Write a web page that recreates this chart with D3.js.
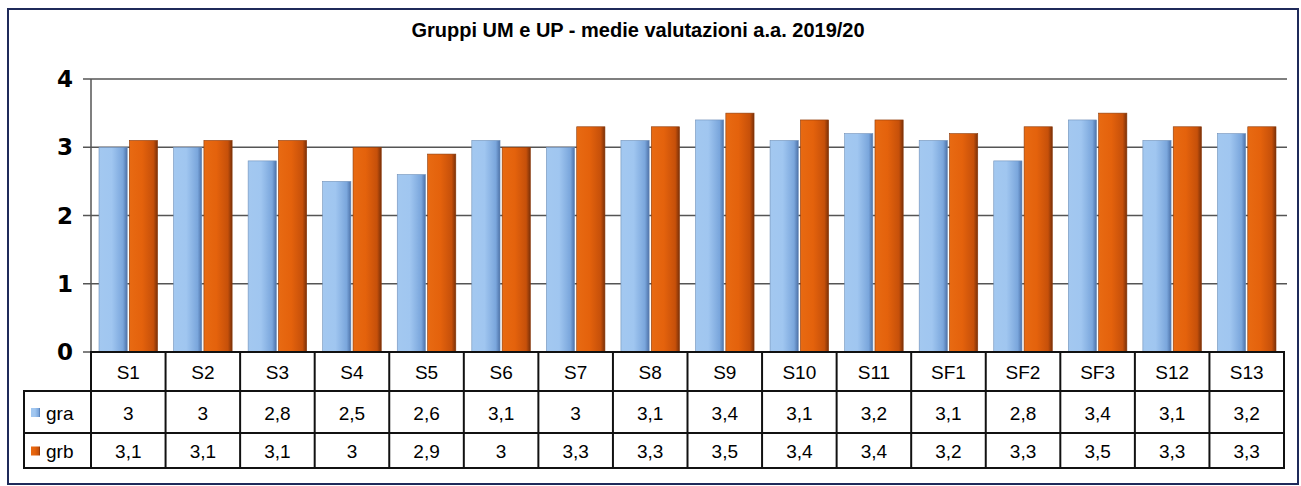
<!DOCTYPE html>
<html>
<head>
  <meta charset="utf-8">
  <script src="https://d3js.org/d3.v7.min.js"></script>
</head>
<style>
  body { margin: 0; background: #fff; }
  svg { display: block; font-family: "Liberation Sans", Arial, sans-serif; }
  .title { font-size: 20px; font-weight: bold; text-anchor: middle; }
  .ytick { font-size: 23px; font-weight: bold; text-anchor: end; dominant-baseline: central; font-family: "DejaVu Sans", sans-serif; }
  .cell { font-size: 19px; text-anchor: middle; dominant-baseline: central; }
  .grid { stroke: #555; stroke-width: 1.5px; }
  .tbl { stroke: #111; stroke-width: 2px; fill: none; }
</style>
<body>
  <svg id="chart" width="1301" height="486"></svg>
  <script>
    const categories = ["S1", "S2", "S3", "S4", "S5", "S6", "S7", "S8", "S9", "S10", "S11", "SF1", "SF2", "SF3", "S12", "S13"];
    const series = ["gra", "grb"];
    const gra = [3, 3, 2.8, 2.5, 2.6, 3.1, 3, 3.1, 3.4, 3.1, 3.2, 3.1, 2.8, 3.4, 3.1, 3.2];
    const grb = [3.1, 3.1, 3.1, 3, 2.9, 3, 3.3, 3.3, 3.5, 3.4, 3.4, 3.2, 3.3, 3.5, 3.3, 3.3];
    const yTicks = [0, 1, 2, 3, 4];
    const titleText = "Gruppi UM e UP - medie valutazioni a.a. 2019/20";

    const values = { gra: gra, grb: grb };
    const fmt = v => String(v).replace(".", ",");

    const svg = d3.select("#chart");
    const pLeft = 91, pRight = 1284, pTop = 79, pBottom = 352;
    const rowH = [39, 42, 35]; // header, gra, grb

    // gradients
    const defs = svg.append("defs");
    function grad(id, stops) {
      const g = defs.append("linearGradient").attr("id", id)
        .attr("x1", "0%").attr("x2", "100%").attr("y1", "0%").attr("y2", "0%");
      stops.forEach(s => g.append("stop").attr("offset", s[0]).attr("stop-color", s[1]));
    }
    grad("gBlue", [["0%", "#a3c8f0"], ["45%", "#a0c6f0"], ["85%", "#7aa6dc"], ["100%", "#4d72a8"]]);
    grad("gOrange", [["0%", "#e86a12"], ["45%", "#e4620c"], ["85%", "#c6500a"], ["100%", "#7a3008"]]);
    const fills = { gra: "url(#gBlue)", grb: "url(#gOrange)" };

    // outer frame
    svg.append("rect").attr("x", 8).attr("y", 9).attr("width", 1290).attr("height", 475)
      .attr("fill", "none").attr("stroke", "#1f2a5a").attr("stroke-width", 2);

    svg.append("text").attr("class", "title").attr("x", 638).attr("y", 37).text(titleText);

    const x = d3.scaleBand().domain(categories).range([pLeft, pRight]);
    const cw = x.bandwidth();
    const xs = d3.scaleBand().domain(series).range([8, cw - 8]).paddingInner(0.07);
    const y = d3.scaleLinear().domain([0, 4]).range([pBottom, pTop]);

    // grid + ticks
    svg.append("g").selectAll("line").data(yTicks.filter(d => d > 0)).join("line")
      .attr("class", "grid")
      .attr("x1", pLeft - 8).attr("x2", 1287)
      .attr("y1", d => y(d)).attr("y2", d => y(d));
    svg.append("line").attr("class", "grid").attr("x1", pLeft - 8).attr("x2", pLeft)
      .attr("y1", y(0)).attr("y2", y(0));
    svg.append("line").attr("class", "grid").attr("x1", pLeft).attr("x2", pLeft)
      .attr("y1", y(4)).attr("y2", y(0));
    svg.append("g").selectAll("text").data(yTicks).join("text")
      .attr("class", "ytick").attr("x", 73).attr("y", d => y(d)).text(d => d);

    // bars
    const groups = svg.append("g").selectAll("g").data(categories).join("g")
      .attr("transform", d => `translate(${x(d)},0)`);
    groups.selectAll("rect").data((c, i) => series.map(s => ({ s: s, v: values[s][i] }))).join("rect")
      .attr("x", d => xs(d.s)).attr("width", xs.bandwidth())
      .attr("y", d => y(d.v)).attr("height", d => y(0) - y(d.v))
      .attr("fill", d => fills[d.s])
      .attr("stroke", d => d.s === "gra" ? "#6f8fb8" : "#8a3a0a").attr("stroke-width", 0.6);

    // data table
    const t = svg.append("g");
    const r1 = pBottom, r2 = r1 + rowH[0], r3 = r2 + rowH[1], r4 = r3 + rowH[2];
    const legL = 24;
    t.append("rect").attr("class", "tbl").attr("x", pLeft).attr("y", r1).attr("width", pRight - pLeft).attr("height", r4 - r1);
    t.append("rect").attr("class", "tbl").attr("x", legL).attr("y", r2).attr("width", pLeft - legL).attr("height", r4 - r2);
    [r2, r3].forEach(ry => t.append("line").attr("class", "tbl").attr("x1", legL).attr("x2", pRight).attr("y1", ry).attr("y2", ry));
    categories.slice(1).forEach(c => t.append("line").attr("class", "tbl")
      .attr("x1", x(c)).attr("x2", x(c)).attr("y1", r1).attr("y2", r4));

    t.selectAll(".hdr").data(categories).join("text").attr("class", "cell hdr")
      .attr("x", d => x(d) + cw / 2).attr("y", (r1 + r2) / 2 + 1).text(d => d);
    const rowY = { gra: (r2 + r3) / 2 + 1, grb: (r3 + r4) / 2 + 1 };
    series.forEach(s => {
      t.selectAll(".v" + s).data(values[s]).join("text").attr("class", "cell v" + s)
        .attr("x", (d, i) => x(categories[i]) + cw / 2).attr("y", rowY[s]).text(d => fmt(d));
      t.append("rect").attr("x", 31).attr("y", rowY[s] - 5).attr("width", 9).attr("height", 9)
        .attr("fill", fills[s]);
      t.append("text").attr("class", "cell").style("text-anchor", "start")
        .attr("x", 46).attr("y", rowY[s]).text(s);
    });
  </script>
</body>
</html>
